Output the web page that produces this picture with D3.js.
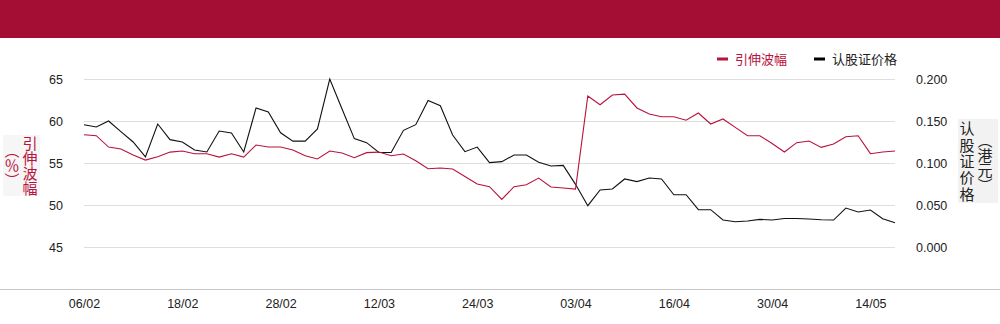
<!DOCTYPE html>
<html>
<head>
<meta charset="utf-8">
<script src="https://cdn.jsdelivr.net/npm/d3@7"></script>
<style>
  body { margin: 0; background: #fff; }
  svg { display: block; font-family: "Liberation Sans", Arial, "Noto Sans CJK SC", sans-serif; }
  .cjk { font-family: "Noto Sans CJK SC", sans-serif; }
</style>
</head>
<body>
<svg id="chart" width="1000" height="324"></svg>
<script>
// trading days
var dates = [
  "06/02", "07/02", "10/02", "11/02", "12/02", "13/02", "14/02", "17/02",
  "18/02", "19/02", "20/02", "21/02", "24/02", "25/02", "26/02", "27/02",
  "28/02", "03/03", "04/03", "05/03", "06/03", "09/03", "10/03", "11/03",
  "12/03", "13/03", "16/03", "17/03", "18/03", "19/03", "20/03", "23/03",
  "24/03", "25/03", "26/03", "27/03", "30/03", "31/03", "01/04", "02/04",
  "03/04", "06/04", "07/04", "08/04", "09/04", "10/04", "13/04", "14/04",
  "16/04", "17/04", "20/04", "21/04", "22/04", "23/04", "24/04", "27/04",
  "30/04", "04/05", "05/05", "06/05", "07/05", "08/05", "11/05", "12/05",
  "14/05", "15/05", "18/05"
];

// implied volatility (%)
var volatility = [
  58.37, 58.25, 56.9, 56.67, 55.95, 55.35, 55.75, 56.3,
  56.43, 56.1, 56.1, 55.7, 56.1, 55.7, 57.14, 56.9,
  56.9, 56.55, 55.87, 55.48, 56.43, 56.19, 55.63, 56.23,
  56.3, 55.87, 56.07, 55.27, 54.32, 54.4, 54.29, 53.4,
  52.5, 52.18, 50.67, 52.18, 52.42, 53.2, 52.14, 52.02,
  51.9, 62.97, 61.94, 63.1, 63.2, 61.55, 60.83, 60.5,
  60.5, 60.1, 60.95, 59.64, 60.24, 59.24, 58.25, 58.25,
  57.33, 56.31, 57.42, 57.62, 56.86, 57.26, 58.13, 58.25,
  56.11, 56.31, 56.43
];

// warrant price (HKD)
var warrantPrice = [
  0.1456, 0.1429, 0.150, 0.1373, 0.125, 0.1072, 0.1464, 0.1278,
  0.125, 0.1155, 0.1131, 0.1381, 0.1357, 0.1131, 0.1655, 0.1607,
  0.136, 0.126, 0.126, 0.1405, 0.200, 0.1643, 0.129, 0.1242,
  0.1127, 0.1125, 0.1389, 0.1456, 0.1745, 0.1682, 0.1333, 0.1135,
  0.119, 0.1004, 0.1016, 0.1095, 0.1095, 0.1008, 0.0965, 0.0972,
  0.0746, 0.0492, 0.0679, 0.0691, 0.081, 0.0778, 0.0822, 0.081,
  0.0622, 0.0622, 0.0444, 0.0444, 0.0321, 0.0301, 0.0309, 0.0329,
  0.0321, 0.034, 0.034, 0.0333, 0.0325, 0.0321, 0.0464, 0.0417,
  0.044, 0.0337, 0.0289
];

var leftTicks = [45, 50, 55, 60, 65];
var rightTicks = [0, 0.05, 0.1, 0.15, 0.2];
var xTickLabels = ["06/02", "18/02", "28/02", "12/03", "24/03", "03/04", "16/04", "30/04", "14/05"];

var RED = "#b8123d";
var HEADER = "#a50e34";

var svg = d3.select("#chart");
var W = 1000, H = 324;
var plotLeft = 84, plotRight = 895, plotTop = 37, plotBottom = 289;

// header bar
svg.append("rect").attr("x", 0).attr("y", 0).attr("width", W).attr("height", 38).attr("fill", HEADER);

var x = d3.scalePoint().domain(dates).range([plotLeft, plotRight]);
var yL = d3.scaleLinear().domain([40, 70]).range([plotBottom, plotTop]);
var yR = d3.scaleLinear().domain([-0.05, 0.25]).range([plotBottom, plotTop]);

// left axis + gridlines
var gLeft = svg.append("g")
  .attr("transform", "translate(" + plotLeft + ",0)")
  .call(d3.axisLeft(yL).tickValues(leftTicks).tickSize(-(plotRight - plotLeft)).tickPadding(21));
gLeft.select(".domain").remove();
gLeft.selectAll("line").attr("stroke", "#dedede");
gLeft.selectAll("text").attr("fill", "#222").style("font-size", "12.5px");

// right axis
var gRight = svg.append("g")
  .attr("transform", "translate(" + plotRight + ",0)")
  .call(d3.axisRight(yR).tickValues(rightTicks).tickSize(0).tickPadding(21).tickFormat(d3.format(".3f")));
gRight.select(".domain").remove();
gRight.selectAll("text").attr("fill", "#222").style("font-size", "12.5px");

// bottom axis
svg.append("line").attr("x1", 0).attr("x2", W).attr("y1", plotBottom + 0.5).attr("y2", plotBottom + 0.5)
  .attr("stroke", "#c8c8c8").attr("stroke-width", 1.2);
var gBottom = svg.append("g")
  .attr("transform", "translate(0," + plotBottom + ")")
  .call(d3.axisBottom(x).tickValues(xTickLabels).tickSize(0).tickPadding(10));
gBottom.select(".domain").remove();
gBottom.selectAll("text").attr("fill", "#222").style("font-size", "12.5px");

// lines
var lineL = d3.line().x(function (d, i) { return x(dates[i]); }).y(function (d) { return yL(d); });
var lineR = d3.line().x(function (d, i) { return x(dates[i]); }).y(function (d) { return yR(d); });

svg.append("path").datum(warrantPrice)
  .attr("fill", "none").attr("stroke", "#111").attr("stroke-width", 1.1).attr("d", lineR);
svg.append("path").datum(volatility)
  .attr("fill", "none").attr("stroke", RED).attr("stroke-width", 1.1).attr("d", lineL);

// legend
var legend = svg.append("g").attr("class", "cjk").style("font-size", "13px");
legend.append("rect").attr("x", 717).attr("y", 57.5).attr("width", 11).attr("height", 3).attr("fill", RED);
legend.append("text").attr("x", 735).attr("y", 64).attr("fill", RED).text("引伸波幅");
legend.append("rect").attr("x", 814).attr("y", 57.5).attr("width", 11).attr("height", 3).attr("fill", "#000");
legend.append("text").attr("x", 832).attr("y", 64).attr("fill", "#222").text("认股证价格");

// vertical axis titles
function vTitle(cx, cy, txt, color, spacing) {
  svg.append("text")
    .attr("class", "cjk")
    .attr("x", cx).attr("y", cy)
    .attr("text-anchor", "middle")
    .style("writing-mode", "vertical-rl")
    .style("font-size", "15px")
    .style("letter-spacing", (spacing || 0) + "px")
    .attr("fill", color)
    .text(txt);
}
svg.append("rect").attr("x", 3).attr("y", 135).attr("width", 37).attr("height", 61).attr("fill", "#f6f6f6");
vTitle(30, 166, "引伸波幅", RED);
vTitle(12, 165, "（％）", RED);
svg.append("rect").attr("x", 958).attr("y", 119).attr("width", 40).attr("height", 84).attr("fill", "#f2f2f2");
vTitle(967, 162, "认股证价格", "#222", 1.3);
vTitle(985, 163, "（港元）", "#222");
</script>
</body>
</html>
